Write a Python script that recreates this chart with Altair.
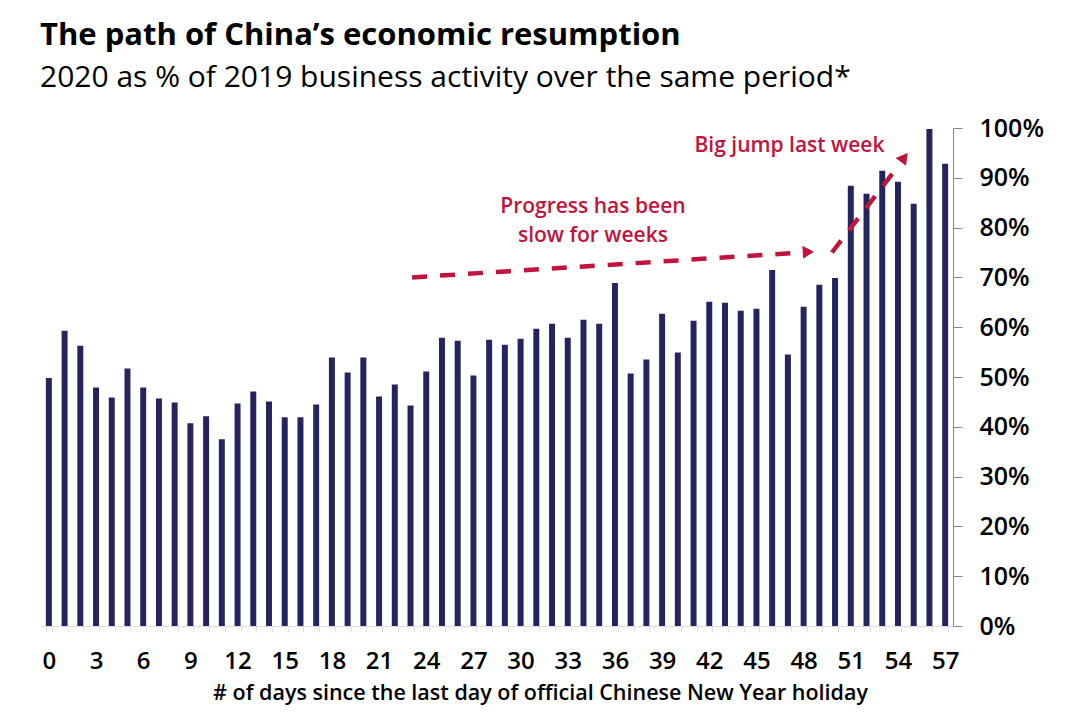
import altair as alt
import pandas as pd

days = list(range(58))
values = [49.8, 59.3, 56.3, 47.9, 45.9, 51.7, 47.9, 45.7, 44.9, 40.7,
          42.1, 37.5, 44.7, 47.1, 45.1, 41.9, 41.9, 44.5, 53.9, 50.9,
          53.9, 46.1, 48.5, 44.3, 51.1, 57.9, 57.3, 50.3, 57.5, 56.5,
          57.7, 59.7, 60.7, 57.9, 61.5, 60.7, 68.9, 50.7, 53.5, 62.7,
          54.9, 61.3, 65.1, 64.9, 63.3, 63.7, 71.5, 54.5, 64.1, 68.5,
          69.9, 88.4, 86.8, 91.4, 89.2, 84.8, 99.8, 92.8]

# annotation arrows (in data units: day, percent)
arrow_x = [23.1, 49.8]
arrow_y = [70.0, 75.0]
arrow_x2 = [47.9, 54.07]
arrow_y2 = [75.0, 92.6]
head_x = [48.3, 54.4]
head_y = [75.1, 94.1]
head_angle = [356.3, 307.2]

note_text = ["Big jump last week", "Progress has been", "slow for weeks"]
note_x = [47.1, 34.6, 34.6]
note_y = [96.4, 84.2, 78.4]

NAVY = "#25245f"
RED = "#c0143c"
FONT = "Open Sans"

bars_df = pd.DataFrame({"day": days, "value": values})
arrows_df = pd.DataFrame({"x": arrow_x, "y": arrow_y, "x2": arrow_x2, "y2": arrow_y2})
heads_df = pd.DataFrame({"x": head_x, "y": head_y, "angle": head_angle})
notes_df = pd.DataFrame({"text": note_text, "x": note_x, "y": note_y})

yscale = alt.Scale(domain=[0, 100], nice=False)
xq = alt.Scale(domain=[-0.5, 57.5], nice=False, zero=False)

bars = alt.Chart(bars_df).mark_bar(color=NAVY).encode(
    x=alt.X("day:O",
            scale=alt.Scale(paddingInner=0.62, paddingOuter=0.31),
            axis=alt.Axis(
                title="# of days since the last day of official Chinese New Year holiday",
                labelExpr="datum.value % 3 == 0 ? datum.label : ''",
                labelAngle=0, labelFont=FONT, labelFontSize=24, labelFontWeight=600,
                labelColor="#000000", labelPadding=17, labelOverlap=False,
                tickBand="extent", tickColor="#e3e3e3", tickSize=6,
                domainColor="#dcdcdc",
                titleFont=FONT, titleFontSize=21.5, titleFontWeight=600,
                titleColor="#000000", titlePadding=9, titleX=499, titleAnchor="middle")),
    y=alt.Y("value:Q", scale=yscale,
            axis=alt.Axis(orient="right", title=None, values=list(range(0, 101, 10)),
                          labelExpr="datum.value + '%'", labelFont=FONT, labelFontSize=25,
                          labelFontWeight=600, labelColor="#000000", labelPadding=17,
                          tickColor="#888888", tickSize=9, domainColor="#888888",
                          grid=False)),
)

lines = alt.Chart(arrows_df).mark_rule(color=RED, strokeWidth=4.5, strokeDash=[15, 13],
                                       strokeCap="butt").encode(
    x=alt.X("x:Q", scale=xq, axis=None),
    x2="x2:Q",
    y=alt.Y("y:Q", scale=yscale, axis=None),
    y2="y2:Q",
)

heads = alt.Chart(heads_df).mark_point(shape="triangle-right", filled=True, color=RED,
                                       size=170, opacity=1).encode(
    x=alt.X("x:Q", scale=xq, axis=None),
    y=alt.Y("y:Q", scale=yscale, axis=None),
    angle=alt.Angle("angle:Q", scale=None),
)

notes = alt.Chart(notes_df).mark_text(color=RED, font=FONT, fontSize=21, fontWeight=600,
                                      align="center", baseline="middle").encode(
    x=alt.X("x:Q", scale=xq, axis=None),
    y=alt.Y("y:Q", scale=yscale, axis=None),
    text="text:N",
)

chart = alt.layer(bars, lines, heads, notes).resolve_scale(
    x="independent", y="independent").properties(
    width=912, height=498,
    background="white",
    title=alt.TitleParams(
        text="The path of China’s economic resumption",
        subtitle="2020 as % of 2019 business activity over the same period*",
        anchor="start", frame="group", font=FONT, fontSize=31, fontWeight="bold",
        color="#000000", subtitleFont=FONT, subtitleFontSize=30,
        subtitleColor="#000000", subtitlePadding=11, offset=22, dx=-1),
    autosize=alt.AutoSizeParams(type="none"),
    padding={"left": 33, "top": 120, "right": 110, "bottom": 86},
).configure_view(strokeWidth=0, stroke="transparent")

chart.save("out.html", embed_options={"renderer": "svg", "actions": False})
